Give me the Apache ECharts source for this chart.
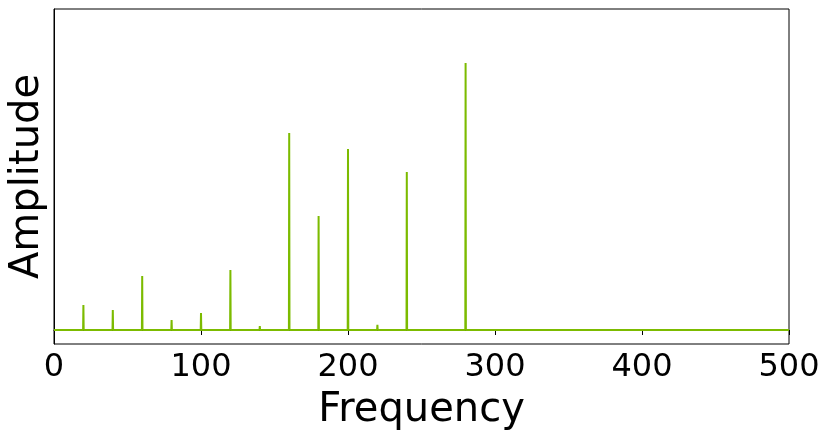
<!DOCTYPE html>
<html>
<head>
<meta charset="utf-8">
<script src="https://cdn.jsdelivr.net/npm/echarts@6/dist/echarts.min.js"></script>
<style>html,body{margin:0;padding:0;background:#fff}#c{width:830px;height:441px}</style>
</head>
<body>
<div id="c"></div>
<script>
// Spectrum peaks (frequency, amplitude, relative to the largest peak)
const peakFreqs = [20, 40, 60, 80, 100, 120, 140, 160, 180, 200, 220, 240, 260, 280];
const peakAmps  = [0.094, 0.075, 0.202, 0.037, 0.064, 0.225, 0.015, 0.738, 0.427, 0.678, 0.019, 0.592, 0.007, 1.0];
const xTicks = [0, 100, 200, 300, 400, 500];
const freqMin = 0, freqMax = 500;

// Build a line through the spectrum: flat zero baseline with a narrow spike at each peak
const lineData = [[freqMin, 0]];
peakFreqs.forEach((f, i) => {
  lineData.push([f - 0.2, 0]);
  lineData.push([f, peakAmps[i]]);
  lineData.push([f + 0.2, 0]);
});
lineData.push([freqMax, 0]);

const chart = echarts.init(document.getElementById('c'), null, {renderer: 'canvas'});
chart.setOption({
  animation: false,
  grid: {left: 53, right: 41, top: 9, bottom: 97, show: true, borderColor: '#000', borderWidth: 1, backgroundColor: 'transparent'},
  xAxis: {
    type: 'value', min: 0, max: 500, interval: 100,
    name: 'Frequency', nameLocation: 'middle', nameGap: 47,
    nameTextStyle: {fontFamily: 'DejaVu Sans', fontSize: 40, color: '#000'},
    axisLine: {show: true, lineStyle: {color: '#000', width: 1}},
    axisTick: {show: true, length: 5, lineStyle: {color: '#000'}},
    axisLabel: {fontFamily: 'DejaVu Sans', fontSize: 32, color: '#000', margin: 8,
      formatter: v => xTicks.includes(v) ? String(v) : ''},
    splitLine: {show: false}
  },
  yAxis: {
    type: 'value', min: -0.0524, max: 1.202,
    name: 'Amplitude', nameLocation: 'middle', nameGap: 6, nameRotate: 90,
    nameTextStyle: {fontFamily: 'DejaVu Sans', fontSize: 40, color: '#000'},
    axisLine: {show: true, lineStyle: {color: '#000', width: 1}},
    axisTick: {show: false},
    axisLabel: {show: false},
    splitLine: {show: false}
  },
  series: [{
    type: 'line',
    data: lineData,
    showSymbol: false,
    symbol: 'none',
    lineStyle: {color: '#7cbb00', width: 2},
    itemStyle: {color: '#7cbb00'}
  }]
});
</script>
</body>
</html>
